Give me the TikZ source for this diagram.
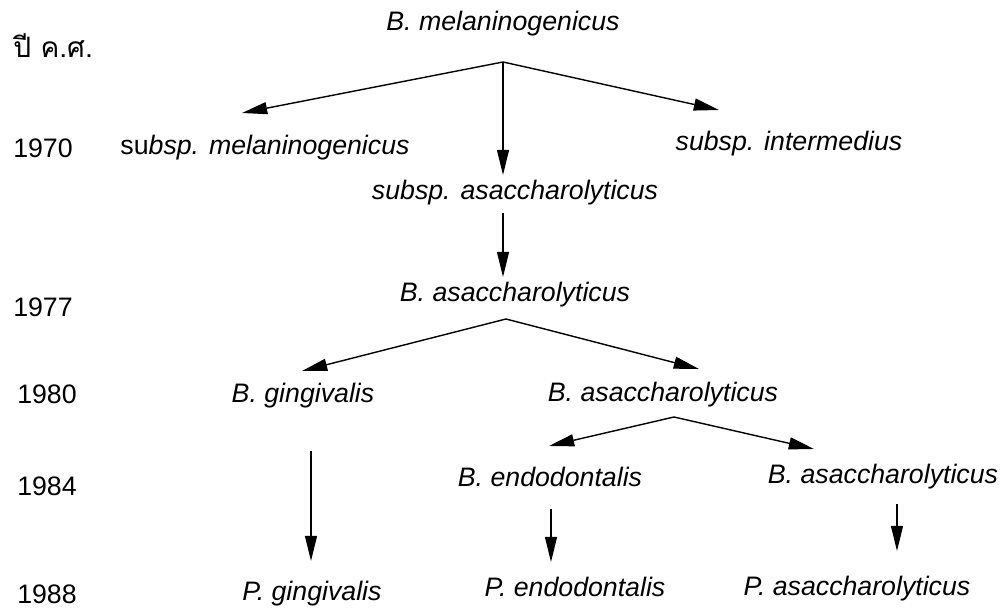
\documentclass[tikz,border=0pt]{standalone}
\usepackage{fontspec}
\setmainfont{Liberation Sans}
\newfontfamily\thaifont[Script=Thai]{Loma}
\usetikzlibrary{arrows.meta,positioning}

\begin{document}
\begin{tikzpicture}[
  x=0.025cm, y=-0.025cm,
  taxon/.style={inner sep=0pt, anchor=base, font=\fontsize{19}{23}\selectfont\itshape},
  year/.style={inner sep=0pt, anchor=base, font=\fontsize{19}{23}\selectfont},
  arrow/.style={-{Triangle[length=6.3mm,width=3mm]}, line width=1pt}
]
  \useasboundingbox (0,0) rectangle (1008,609);

  % years
  \node[inner sep=0pt, anchor=base west, font=\fontsize{20}{24}\thaifont] (yr) at (13,58) {ปี ค.ศ.};
  \node[year] (y70) at (43,158) {1970};
  \node[year] (y77) at (43,317) {1977};
  \node[year] (y80) at (47,404) {1980};
  \node[year] (y84) at (47,496) {1984};
  \node[year] (y88) at (47,604) {1988};

  % taxa
  \node[taxon] (bmel)   at (503,31)  {B. melaninogenicus};
  \node[taxon] (smel)   at (265,155) {{\upshape su}bsp. melaninogenicus};
  \node[taxon] (sint)   at (789,151) {subsp. intermedius};
  \node[taxon] (sasa)   at (515,200) {subsp. asaccharolyticus};
  \node[taxon] (basa1)  at (515,302) {B. asaccharolyticus};
  \node[taxon] (bging)  at (303,403) {B. gingivalis};
  \node[taxon] (basa2)  at (663,402) {B. asaccharolyticus};
  \node[taxon] (bendo)  at (550,487) {B. endodontalis};
  \node[taxon] (basa3)  at (883,484) {B. asaccharolyticus};
  \node[taxon] (pging)  at (312,601) {P. gingivalis};
  \node[taxon] (pendo)  at (575,597) {P. endodontalis};
  \node[taxon] (pasa)   at (857,596) {P. asaccharolyticus};

  % arrow ends
  \coordinate (j1) at (503,62);
  \coordinate (j2) at (506,319);
  \coordinate (j3) at (674,417);

  \draw[arrow] (j1) -- (242,113);
  \draw[arrow] (j1) -- (719,110);
  \draw[arrow] (j1) -- (503,175);
  \draw[arrow] (503,213) -- (503,277);
  \draw[arrow] (j2) -- (302,371);
  \draw[arrow] (j2) -- (699,369);
  \draw[arrow] (j3) -- (549,446);
  \draw[arrow] (j3) -- (814,449);
  \draw[arrow] (311,451) -- (311,561);
  \draw[arrow] (551,509) -- (551,562);
  \draw[arrow] (897,504) -- (897,551);
\end{tikzpicture}
\end{document}
